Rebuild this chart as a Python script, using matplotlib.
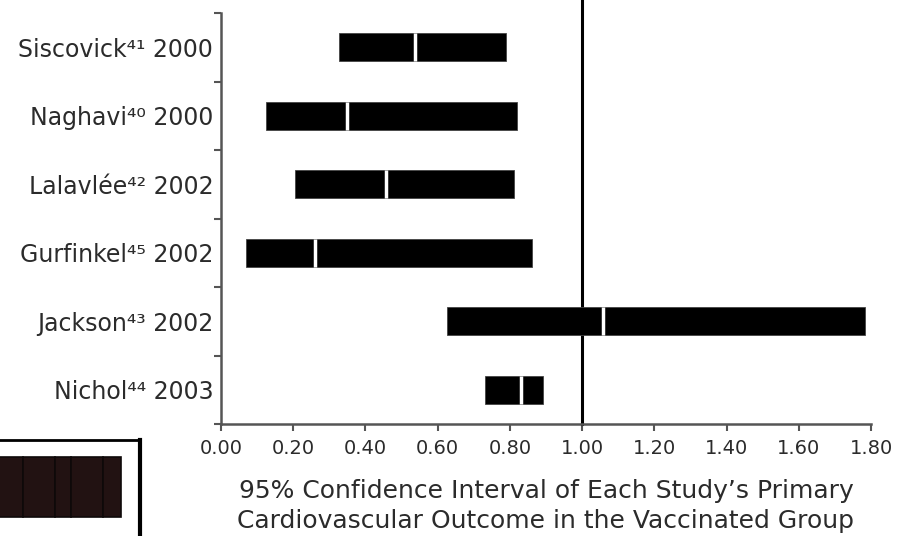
import numpy as np
import matplotlib.pyplot as plt

# study labels (top to bottom) and confidence intervals
studies = ['Siscovick\u2074\u00b9 2000',
           'Naghavi\u2074\u2070 2000',
           'Lalavlée\u2074\u00b2 2002',
           'Gurfinkel\u2074\u2075 2002',
           'Jackson\u2074\u00b3 2002',
           'Nichol\u2074\u2074 2003']
ci_low = [0.326, 0.125, 0.206, 0.070, 0.627, 0.731]
ci_high = [0.789, 0.821, 0.810, 0.861, 1.784, 0.891]
estimate = [0.536, 0.349, 0.457, 0.260, 1.059, 0.832]
xticks = [0.0, 0.2, 0.4, 0.6, 0.8, 1.0, 1.2, 1.4, 1.6, 1.8]

# cropped legend swatch in the lower left corner (segment edges, px)
swatch_edges = [-10, 23, 55, 71, 103, 121]

plt.rcParams['font.family'] = ['DejaVu Sans']
text_col = '#2b2b2b'
axis_col = '#555555'

fig = plt.figure(figsize=(9.03, 5.36), dpi=100)
ax = fig.add_axes([221 / 903, 1 - 424 / 536, 650 / 903, 411 / 536])

y = np.arange(len(studies))
lo = np.array(ci_low)
hi = np.array(ci_high)
h = 0.41
ax.barh(y, hi - lo, left=lo, height=h, color='black', edgecolor='#444444', linewidth=0.6, zorder=3)
ax.vlines(estimate, y - h / 2, y + h / 2, color='white', linewidth=2.5, zorder=4)

ax.axvline(1.0, ymin=0, ymax=1.035, color='black', linewidth=2.2, clip_on=False, zorder=2)

ax.set_xlim(0, 1.8)
ax.set_ylim(len(studies) - 0.5, -0.5)

ax.set_xticks(xticks, ['%.2f' % v for v in xticks])
ax.set_yticks(np.arange(len(studies) + 1) - 0.5, [])
ax.set_yticks(y, studies, minor=True)
ax.tick_params(axis='y', which='major', length=5, width=1.5, color=axis_col, direction='out')
ax.tick_params(axis='y', which='minor', length=0, pad=5.5, labelsize=17, labelcolor=text_col)
ax.tick_params(axis='x', length=5, width=1.5, color=axis_col, direction='out', pad=6,
               labelsize=14, labelcolor=text_col)

for s in ['top', 'right']:
    ax.spines[s].set_visible(False)
for s in ['left', 'bottom']:
    ax.spines[s].set_color(axis_col)
    ax.spines[s].set_linewidth(1.8)

ax.set_xlabel("95% Confidence Interval of Each Study\u2019s Primary\n"
              "Cardiovascular Outcome in the Vaccinated Group",
              fontsize=18, color=text_col, labelpad=15, linespacing=1.3)

# partial legend box cut off by the figure edge
lax = fig.add_axes([-30 / 903, 1 - 570 / 536, 170 / 903, 130 / 536])
lax.set_xlim(-30, 140)
lax.set_ylim(130, 0)
edges = np.array(swatch_edges)
lax.barh(np.full(len(edges) - 1, 47), np.diff(edges), left=edges[:-1], height=60,
         color='#221212', edgecolor='#0e0909', linewidth=1.2)
lax.set_xticks([])
lax.set_yticks([])
for s in ['left', 'bottom']:
    lax.spines[s].set_visible(False)
lax.spines['top'].set_linewidth(2)
lax.spines['right'].set_linewidth(3)

fig.savefig('out.png', dpi=100)
